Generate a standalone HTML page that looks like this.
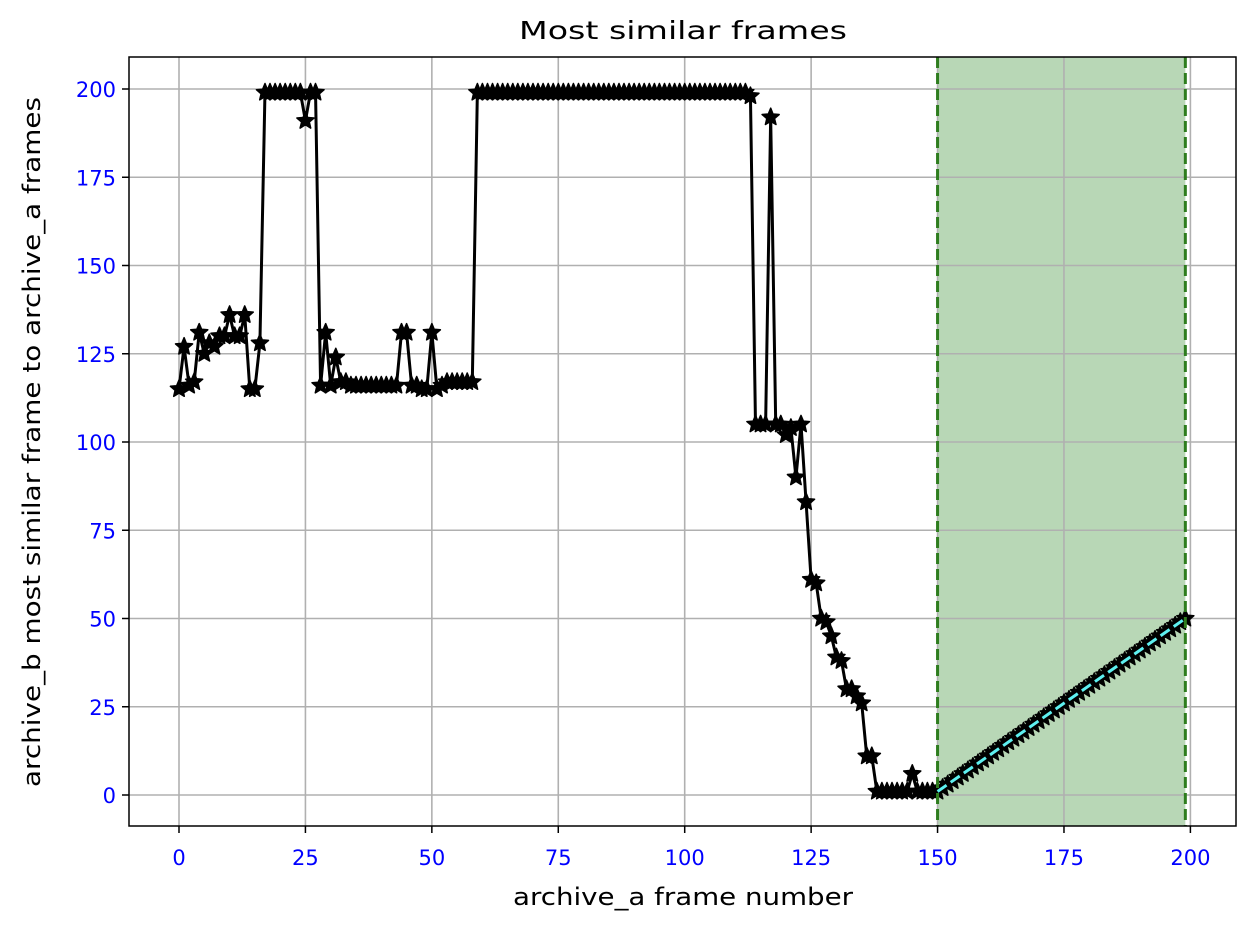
<!DOCTYPE html>
<html><head><meta charset="utf-8"><style>
body{margin:0;background:#fff;}
svg{display:block;font-family:"DejaVu Sans","Liberation Sans",sans-serif;}
</style></head><body>
<svg id="c" width="1248" height="928">
<rect width="1248" height="928" fill="#fff"/>
</svg>
<script>
const xTicks=[0,25,50,75,100,125,150,175,200];
const yTicks=[0,25,50,75,100,125,150,175,200];
const frameIdx=[];for(let i=0;i<200;i++)frameIdx.push(i);
const similarFrame=[115,127,116,117,131,125,128,127,130,130,136,130,130,136,115,115,128,199,199,199,
199,199,199,199,199,191,199,199,116,131,116,124,117,117,116,116,116,116,116,116,
116,116,116,116,131,131,116,116,115,115,131,115,116,117,117,117,117,117,117,199,
199,199,199,199,199,199,199,199,199,199,199,199,199,199,199,199,199,199,199,199,
199,199,199,199,199,199,199,199,199,199,199,199,199,199,199,199,199,199,199,199,
199,199,199,199,199,199,199,199,199,199,199,199,199,198,105,105,105,192,105,105,
102,104,90,105,83,61,60,50,49,45,39,38,30,30,28,26,11,11,1,1,
1,1,1,1,1,6,1,1,1,1,
1,2,3,4,5,6,7,8,9,10,11,12,13,14,15,16,17,18,19,20,21,22,23,24,25,26,27,28,29,30,
31,32,33,34,35,36,37,38,39,40,41,42,43,44,45,46,47,48,49,50];
const regionStart=150, regionEnd=199;
const X0=129,X1=1236,Y0=57,Y1=826;
const sx=v=>179+v*5.057;
const sy=v=>795-v*(795-89)/200;
const svg=document.getElementById('c');
const NS='http://www.w3.org/2000/svg';
function mk(t,a,p){const e=document.createElementNS(NS,t);for(const k in a)e.setAttribute(k,a[k]);(p||svg).appendChild(e);return e;}
let e=mk('rect',{x:sx(regionStart),y:Y0,width:sx(regionEnd)-sx(regionStart),height:Y1-Y0,fill:'#b8d7b6'});


xTicks.forEach(t=>{const g=mk('line',{x1:sx(t),x2:sx(t),y1:Y0,y2:Y1,stroke:'#b0b0b0','stroke-width':1.6});

});
yTicks.forEach(t=>{const g=mk('line',{x1:X0,x2:X1,y1:sy(t),y2:sy(t),stroke:'#b0b0b0','stroke-width':1.6});

});
let d=frameIdx.map((x,i)=>(i?'L':'M')+sx(x)+','+sy(similarFrame[i])).join('');
e=mk('path',{d:d,fill:'none',stroke:'#000','stroke-width':3,'stroke-linejoin':'round'});


function star(cx,cy,r){let p=[];for(let k=0;k<10;k++){const a=-Math.PI/2+k*Math.PI/5;const rr=k%2?r*0.45:r;p.push((cx+rr*Math.cos(a)).toFixed(1)+','+(cy+rr*Math.sin(a)).toFixed(1));}return p.join(' ');}
frameIdx.forEach((x,i)=>{const s=mk('polygon',{points:star(sx(x),sy(similarFrame[i]),9),fill:'#000',stroke:'#000','stroke-width':1.5,'stroke-linejoin':'round'});

});
e=mk('line',{x1:sx(regionStart),y1:sy(similarFrame[regionStart]),x2:sx(regionEnd),y2:sy(similarFrame[regionEnd]),stroke:'#5ef0f0','stroke-width':3,'stroke-dasharray':'11,5'});


[regionStart,regionEnd].forEach(v=>{const l=mk('line',{x1:sx(v),x2:sx(v),y1:Y0,y2:Y1,stroke:'#2e7d1e','stroke-width':3,'stroke-dasharray':'11,5'});

});
e=mk('rect',{x:X0,y:Y0,width:X1-X0,height:Y1-Y0,fill:'none',stroke:'#000','stroke-width':1.5});


xTicks.forEach(t=>{mk('line',{x1:sx(t),x2:sx(t),y1:Y1,y2:Y1+7,stroke:'#000','stroke-width':1.5});
const tx=mk('text',{x:sx(t),y:Y1+39,'text-anchor':'middle','font-size':21,fill:'#0000ff'});tx.textContent=t;

});
yTicks.forEach(t=>{mk('line',{x1:X0-7,x2:X0,y1:sy(t),y2:sy(t),stroke:'#000','stroke-width':1.5});
const tx=mk('text',{x:X0-13,y:sy(t)+8,'text-anchor':'end','font-size':21,fill:'#0000ff'});tx.textContent=t;

});
e=mk('text',{x:519,y:39,'font-size':25,fill:'#000',textLength:328,lengthAdjust:'spacingAndGlyphs'});e.textContent='Most similar frames';


e=mk('text',{x:513,y:905,'font-size':24,fill:'#000',textLength:340,lengthAdjust:'spacingAndGlyphs'});e.textContent='archive_a frame number';


e=mk('text',{x:0,y:0,'font-size':24,fill:'#000',textLength:690,lengthAdjust:'spacingAndGlyphs',transform:'translate(40,787) rotate(-90)'});e.textContent='archive_b most similar frame to archive_a frames';


</script>
</body></html>
